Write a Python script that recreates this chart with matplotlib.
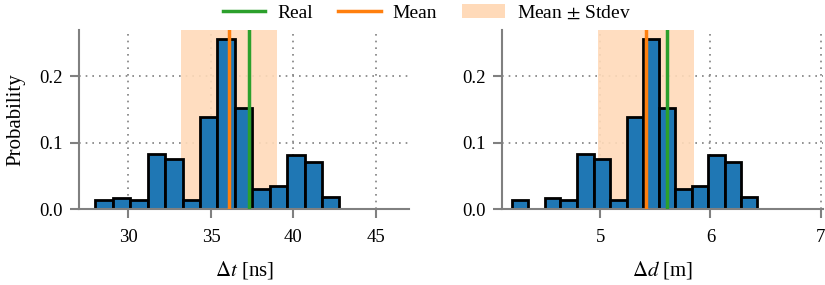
import numpy as np
import matplotlib
matplotlib.use("Agg")
import matplotlib.pyplot as plt
from matplotlib.lines import Line2D
from matplotlib.patches import Patch

plt.rcParams['font.family'] = ['Liberation Serif', 'DejaVu Serif']
plt.rcParams['mathtext.fontset'] = 'stix'

# histogram of time differences (probability per bin)
dt_edges = [28.00, 29.06, 30.11, 31.17, 32.22, 33.28, 34.33, 35.39,
            36.45, 37.50, 38.56, 39.61, 40.67, 41.72, 42.78]
dt_probs = [0.014, 0.0166, 0.014, 0.083, 0.076, 0.0136, 0.139,
            0.257, 0.152, 0.030, 0.035, 0.081, 0.071, 0.0186]
dt_real = 37.32
dt_mean = 36.09
dt_std = 2.93

# histogram of distance differences
dd_edges = [4.20, 4.35, 4.50, 4.64, 4.79, 4.94, 5.09, 5.24,
            5.39, 5.53, 5.68, 5.83, 5.98, 6.13, 6.28, 6.42]
dd_probs = [0.014, 0.0, 0.0166, 0.014, 0.083, 0.076, 0.0136, 0.139,
            0.257, 0.152, 0.030, 0.035, 0.081, 0.071, 0.0186]
dd_real = 5.606
dd_mean = 5.418
dd_std = 0.436

C_BLUE = '#1f77b4'
C_ORANGE = '#ff7f0e'
C_GREEN = '#2ca02c'
C_SHADE = '#ffdab9'
GRAY = '#808080'


def draw_hist(ax, edges, probs, real, mean, std, xlim, xticks, xlabel):
    edges = np.asarray(edges)
    probs = np.asarray(probs)
    keep = probs > 0  # empty bins are not drawn
    ax.axvspan(mean - std, mean + std, color=C_SHADE, alpha=0.9, lw=0, zorder=1)
    ax.bar(edges[:-1][keep], probs[keep], width=np.diff(edges)[keep], align='edge',
           color=C_BLUE, edgecolor='black', linewidth=2, zorder=2)
    ax.axvline(mean, color=C_ORANGE, lw=2.5, zorder=3)
    ax.axvline(real, color=C_GREEN, lw=2.5, zorder=3)

    ax.set_xlim(*xlim)
    ax.set_ylim(0, 0.27)
    ax.set_xticks(xticks)
    ax.set_yticks([0.0, 0.1, 0.2])
    ax.set_yticklabels(['0.0', '0.1', '0.2'])
    ax.grid(True, linestyle=(0, (1, 3)), color=GRAY, lw=1.2, zorder=0)
    ax.set_axisbelow(True)
    for s in ['top', 'right']:
        ax.spines[s].set_visible(False)
    for s in ['left', 'bottom']:
        ax.spines[s].set_color(GRAY)
        ax.spines[s].set_linewidth(1.5)
    ax.tick_params(colors=GRAY, labelcolor='black', labelsize=13.5,
                   length=6.5, width=1.5, pad=5)
    ax.tick_params(axis='x', pad=8)
    ax.set_xlabel(xlabel, fontsize=15, labelpad=9)


fig = plt.figure(figsize=(8.25, 2.85), dpi=100)
ax1 = fig.add_axes([79 / 825, 1 - 209 / 285, 330 / 825, 179 / 285])
ax2 = fig.add_axes([502 / 825, 1 - 209 / 285, 321 / 825, 179 / 285])

draw_hist(ax1, dt_edges, dt_probs, dt_real, dt_mean, dt_std,
          (27, 47), [30, 35, 40, 45], r'$\Delta t$ [ns]')
draw_hist(ax2, dd_edges, dd_probs, dd_real, dd_mean, dd_std,
          (4.11, 7.02), [5, 6, 7], r'$\Delta d$ [m]')
ax1.set_ylabel('Probability', fontsize=15, labelpad=10)

handles = [Line2D([], [], color=C_GREEN, lw=2.5),
           Line2D([], [], color=C_ORANGE, lw=2.5),
           Patch(facecolor=C_SHADE, edgecolor='none')]
fig.legend(handles, ['Real', 'Mean', r'Mean $\pm$ Stdev'], loc='center',
           bbox_to_anchor=(0.517, 0.955), ncol=3, frameon=False, fontsize=14,
           handlelength=2.2, columnspacing=1.3, handletextpad=0.6)

fig.savefig('out.png', dpi=100)
